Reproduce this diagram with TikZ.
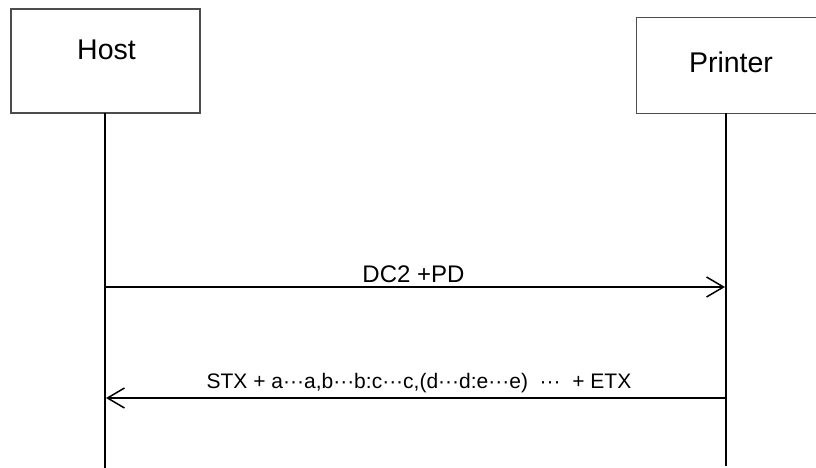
\documentclass[tikz,border=0pt]{standalone}
\usepackage{fontspec}
\setmainfont{Liberation Sans}
\usetikzlibrary{arrows.meta}
\begin{document}
\begin{tikzpicture}[x=1pt,y=-1pt,
  actorbox/.style={draw=black!70, line width=1.3pt, fill=white, inner sep=0pt},
  lifeline/.style={line width=1.8pt, black},
  msg/.style={line width=1.5pt, black, -{Straight Barb[length=17pt,width=20pt,line width=1.5pt]}},
  actorlabel/.style={font=\fontsize{28.5}{34}\selectfont, inner sep=0pt},
  msglabel/.style={inner sep=0pt, anchor=base}]
\useasboundingbox (0,0) rectangle (816,468);
\fill[white] (0,0) rectangle (816,468);
\node[actorbox, minimum width=189pt, minimum height=104pt] (hostbox) at (105.5,61) {};
\node[actorbox, minimum width=200pt, minimum height=96pt, anchor=north west] (printerbox) at (636,17) {};
\node[actorlabel] (hostlabel) at (106.5,50) {Host};
\node[actorlabel] (printerlabel) at (731,62) {Printer};
\coordinate (hosttop) at (105,113);
\coordinate (hostbot) at (105,468);
\coordinate (printertop) at (726,113);
\coordinate (printerbot) at (726,466);
\draw[lifeline] (hosttop) -- (hostbot);
\draw[lifeline] (printertop) -- (printerbot);
\coordinate (m1s) at (105,287);
\coordinate (m1e) at (725,287);
\coordinate (m2s) at (726,398);
\coordinate (m2e) at (106,398);
\draw[msg] (m1s) -- (m1e);
\draw[msg] (m2s) -- (m2e);
\node[msglabel, font=\fontsize{24}{28}\selectfont] (m1label) at (413.5,282) {DC2 +PD};
\node[msglabel, font=\fontsize{21}{25}\selectfont] (m2label) at (419,388) {STX + a···a,b···b:c···c,(d···d:e···e) \ ··· \ + ETX};
\end{tikzpicture}
\end{document}
